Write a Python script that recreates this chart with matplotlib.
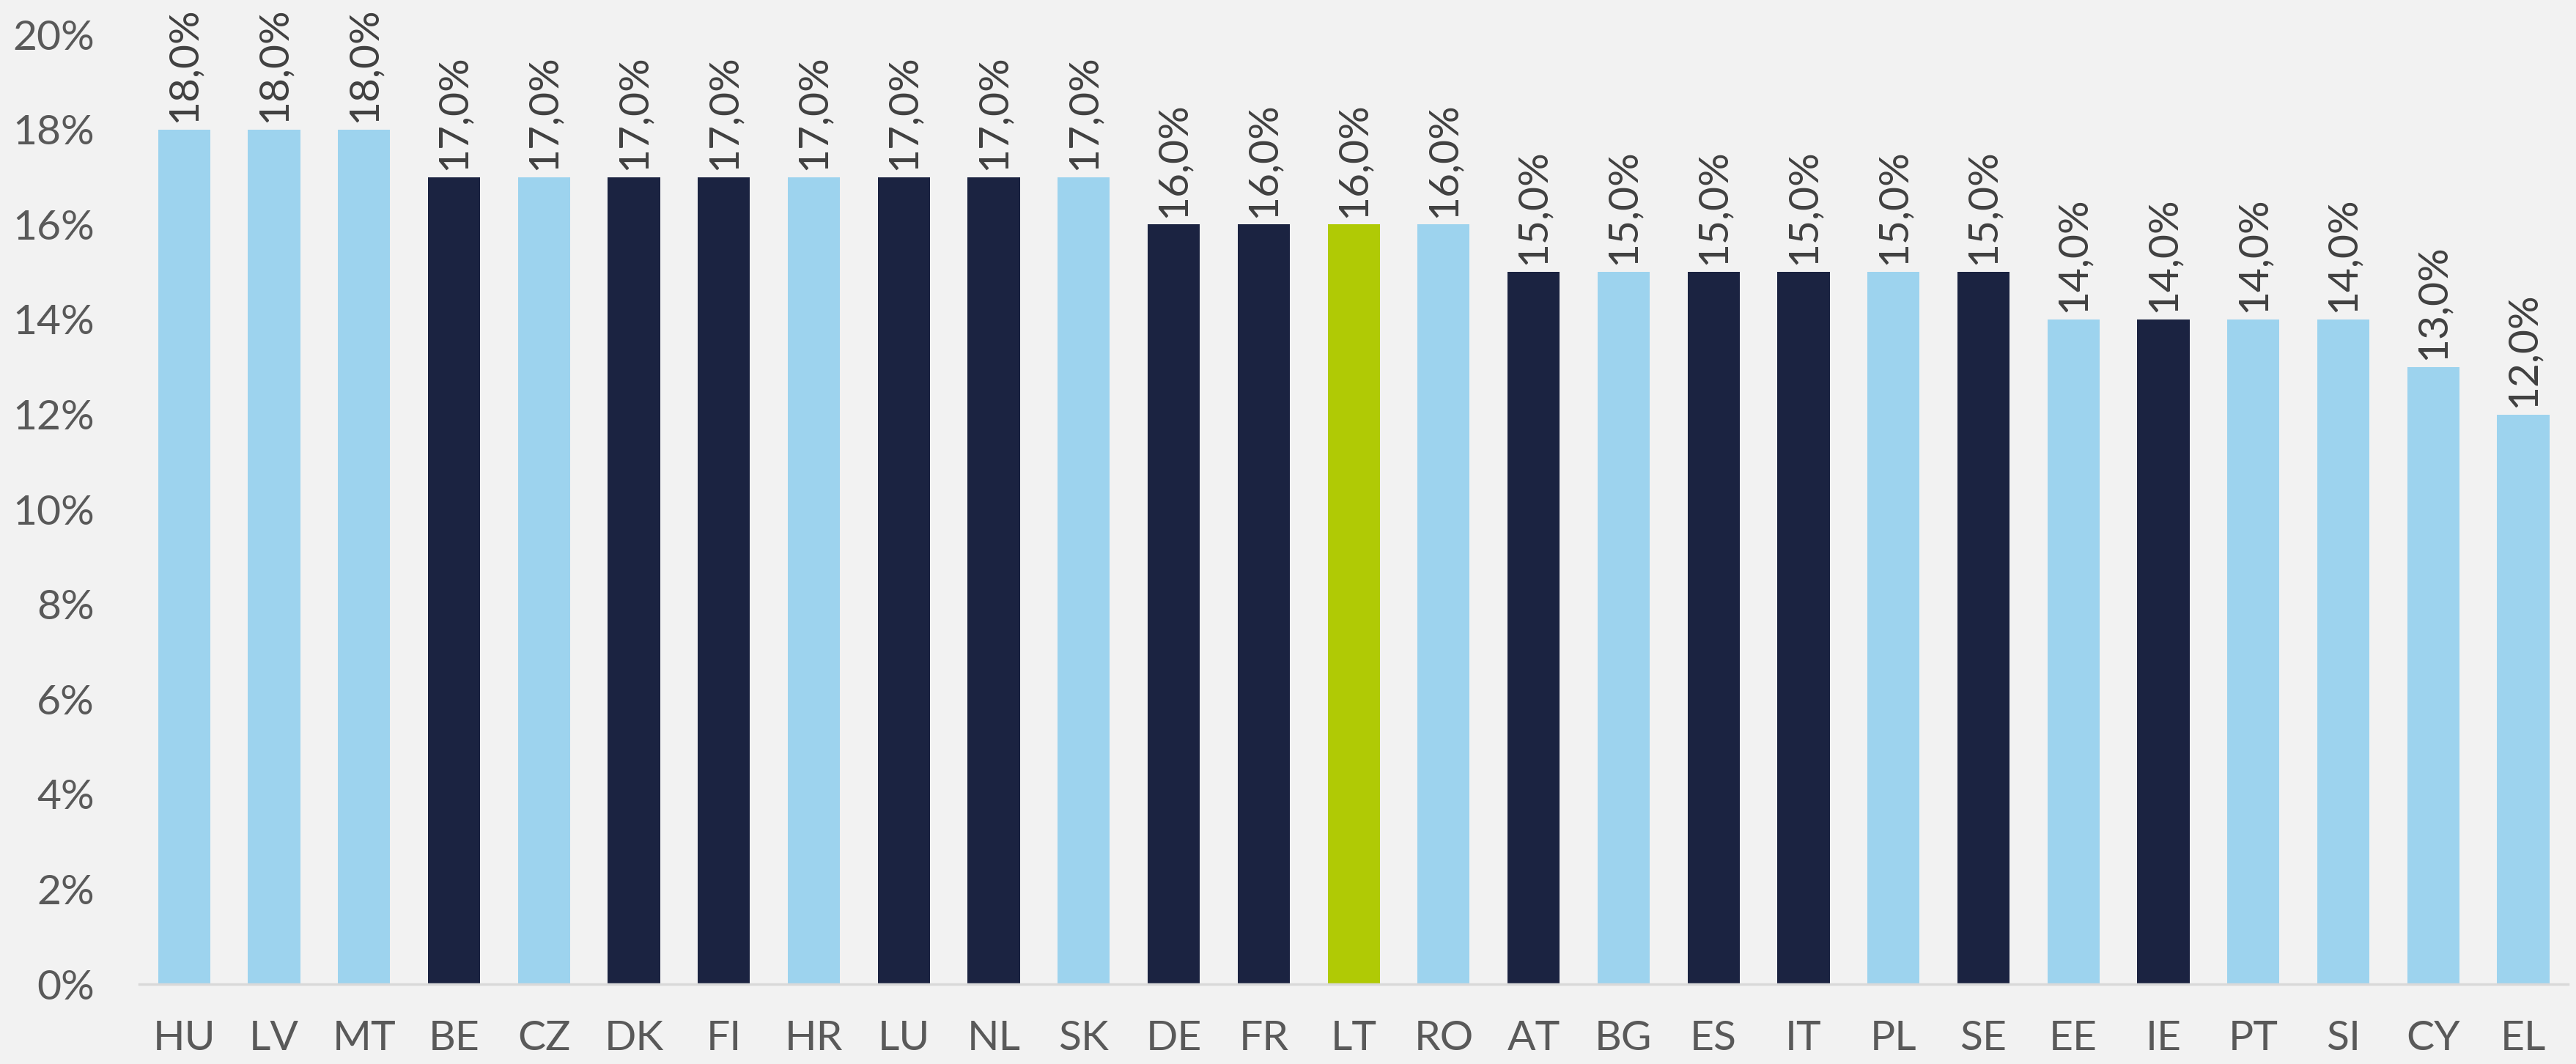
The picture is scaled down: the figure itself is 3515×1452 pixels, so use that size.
import numpy as np
import matplotlib.pyplot as plt
from matplotlib.ticker import FuncFormatter

# country codes, values (%) and colour group
countries = ["HU", "LV", "MT", "BE", "CZ", "DK", "FI", "HR", "LU", "NL", "SK",
             "DE", "FR", "LT", "RO", "AT", "BG", "ES", "IT", "PL", "SE",
             "EE", "IE", "PT", "SI", "CY", "EL"]
values = [18, 18, 18, 17, 17, 17, 17, 17, 17, 17, 17,
          16, 16, 16, 16, 15, 15, 15, 15, 15, 15,
          14, 14, 14, 14, 13, 12]
groups = ["l", "l", "l", "d", "l", "d", "d", "l", "d", "d", "l",
          "d", "d", "g", "l", "d", "l", "d", "d", "l", "d",
          "l", "d", "l", "l", "l", "l"]

palette = {"l": "#9DD3EE", "d": "#1B2341", "g": "#B0CA05"}
bg = "#F2F2F2"

plt.rcParams['font.family'] = ['Lato', 'DejaVu Sans']

fig = plt.figure(figsize=(35.15, 14.52), dpi=100, facecolor=bg)
ax = fig.add_axes([0.054, 0.075, 0.943, 0.8925])
ax.set_facecolor(bg)

x = np.arange(len(countries))
cols = [palette[g] for g in groups]
bars = ax.bar(x, values, width=0.58, color=cols, zorder=2)

# rotated value labels above each bar
for xi, v in zip(x, values):
    ax.text(xi, v + 0.15, f"{v:.1f}%".replace(".", ","), rotation=90,
            ha="center", va="bottom", fontsize=41, color="#404040",
            clip_on=False)

ax.set_xlim(-0.5, len(countries) - 0.5)
ax.set_ylim(0, 20)
ax.set_yticks(np.arange(0, 21, 2))
ax.yaxis.set_major_formatter(FuncFormatter(lambda v, p: f"{v:.0f}%"))
ax.set_xticks(x)
ax.set_xticklabels(countries)

for s in ["top", "right", "left"]:
    ax.spines[s].set_visible(False)
ax.spines["bottom"].set_color("#D9D9D9")
ax.spines["bottom"].set_linewidth(2.5)

ax.tick_params(axis="both", length=0, labelsize=41, colors="#595959")
ax.tick_params(axis="x", pad=35)
ax.tick_params(axis="y", pad=44)

fig.savefig("out.png", dpi=100, facecolor=bg)
